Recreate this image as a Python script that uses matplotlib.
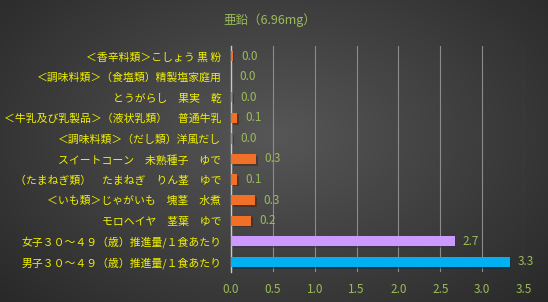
"""
Zinc per food bar chart (dark gradient style).
"""

import numpy as np
import matplotlib
matplotlib.use("Agg")
import matplotlib.pyplot as plt
import matplotlib.patheffects as pe

plt.rcParams['font.family'] = ['Noto Sans CJK JP', 'DejaVu Sans']

title = "亜鉛（6.96mg）"
foods = [
    "＜香辛料類＞こしょう 黒 粉",
    "＜調味料類＞（食塩類）精製塩家庭用",
    "とうがらし　果実　乾",
    "＜牛乳及び乳製品＞（液状乳類）　普通牛乳",
    "＜調味料類＞（だし類）洋風だし",
    "スイートコーン　未熟種子　ゆで",
    "（たまねぎ類）　たまねぎ　りん茎　ゆで",
    "＜いも類＞じゃがいも　塊茎　水煮",
    "モロヘイヤ　茎葉　ゆで",
    "女子３０～４９（歳）推進量/１食あたり",
    "男子３０～４９（歳）推進量/１食あたり",
]
zinc = [0.02, 0.0, 0.01, 0.07, 0.01, 0.30, 0.07, 0.29, 0.24, 2.67, 3.33]
colors = ["#f07028"] * 9 + ["#cc99ff", "#00b0f0"]
xticks = [0.0, 0.5, 1.0, 1.5, 2.0, 2.5, 3.0, 3.5]

GREEN = "#9bbb59"
YELLOW = "#f2f200"

fig = plt.figure(figsize=(5.48, 3.02), dpi=100)

# gradient background
bg = fig.add_axes([0, 0, 1, 1], zorder=-10)
yy, xx = np.mgrid[0:1:302j, 0:1:548j]
r = np.sqrt(((xx - 0.5) / 0.75) ** 2 + ((yy - 0.45) / 0.9) ** 2)
shade = np.clip(0.34 - 0.2 * r, 0.13, 0.34)
bg.imshow(np.dstack([shade] * 3), extent=[0, 1, 0, 1], aspect="auto")
bg.axis("off")

ax = fig.add_axes([231 / 548, 30 / 302, 293 / 548, 226 / 302])
ax.patch.set_alpha(0)
y = np.arange(len(foods))
bars = ax.barh(y, zinc, height=0.5, color=colors, zorder=3)
for b in bars:
    b.set_path_effects([pe.SimplePatchShadow(offset=(1.2, -1.2), alpha=0.5), pe.Normal()])

for yi, v in zip(y, zinc):
    ax.annotate(f"{v:.1f}", (v, yi), xytext=(6, 0), textcoords="offset points",
                va="center", ha="left", color=GREEN, fontsize=8.5)

ax.set_xlim(0, 3.5)
ax.set_ylim(len(foods) - 0.5, -0.5)
ax.set_xticks(xticks)
ax.set_xticklabels([f"{t:.1f}" for t in xticks], color=GREEN, fontsize=8.5)
ax.tick_params(length=0)
ax.set_yticks(y)
ax.set_yticklabels(foods, color=YELLOW, fontsize=7.8)
ax.tick_params(axis="y", pad=7)
ax.tick_params(axis="x", pad=8)
ax.grid(axis="x", color="#8c8c8c", linewidth=0.8, zorder=0)
for s in ["top", "right", "bottom"]:
    ax.spines[s].set_visible(False)
ax.spines["left"].set_color("#c8c8c8")
ax.spines["left"].set_linewidth(1)

fig.text(270 / 548, 1 - 20 / 302, title, color=GREEN, fontsize=9,
         ha="center", va="center")

fig.savefig("out.png", dpi=100)
